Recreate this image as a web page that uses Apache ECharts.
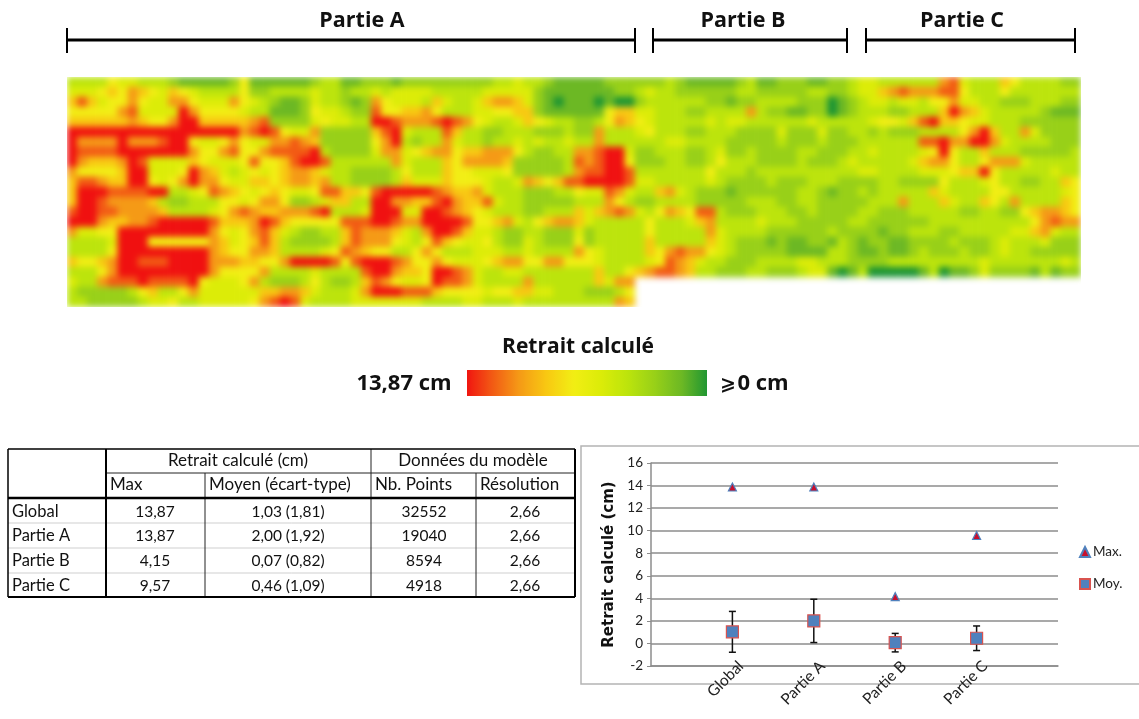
<!DOCTYPE html>
<html><head><meta charset="utf-8">
<style>
html,body{margin:0;padding:0;background:#fff;width:1139px;height:719px;overflow:hidden}
#clip{position:absolute;left:67px;top:77px;width:1014px;height:230px;overflow:hidden}
#heat{width:1014px;height:230px;filter:blur(3px)}
#main{position:absolute;left:0;top:0;width:1139px;height:719px}
</style>
<script src="https://cdn.jsdelivr.net/npm/echarts@6/dist/echarts.min.js"></script>
</head><body>
<div id="clip"><div id="heat"></div></div>
<div id="main"></div>
<script>
// Retreat level per cell: 0 = dark green (0 cm) ... 9 = red (13.87 cm), '.' = no data
const heatRows = [
"3333544333 2111112511 1111233112 2212222222 2233433211 1112222223 2111112311 2221122344 3333337843 3365333322",
"4445657654 6543333522 3333433233 4344443333 3444442111 1111223433 2222223322 2223322344 6787778853 3353333333",
"6864557544 7754447543 2112433212 7544436433 4677642101 1101002333 3332212233 3322201234 4344355744 3322233322",
"5555578444 4975555433 1112544322 8556675333 4455662111 1115664433 3223333732 2112201233 3223336976 4333332111",
"6666667655 7996666678 2222454433 9987778987 5433465433 2235765433 3334344333 3334333334 5546896654 4333222222",
"9999999999 9999999789 8544722222 6894333863 3223332223 2273334533 3223332222 4222422332 3222333357 9633742222",
"9777797778 9954457544 7787622222 5793233743 3233434334 3373333334 4333322222 3222322233 3333889779 9743333222",
"9888899999 9975578557 8888932222 4774567756 6777532233 7789942233 3223422322 2233222334 3333459533 6333222223",
"9766679844 4465444585 5689983333 3374333657 7776222223 8789952223 3223533322 2232223433 3334677533 5777433333",
"7555569944 4597643454 5677643322 2235333655 4445222223 7889983333 3335333233 3333333344 3333444566 9533333433",
"6887669954 5797754466 5677673322 2236444655 5433476568 8999984433 3334322223 2223332222 3322225333 4533223365",
"6999888899 3345876545 6544588665 8999998766 7433322233 5448743367 4322212222 2233212232 3333364333 3553333345",
"6998777763 2233355457 7522346633 9977668976 6843322222 3337532233 3322222333 2233222223 3373336433 6537333365",
"8998877776 3333457876 6777893334 9994499876 5433322333 6467874357 6588322233 3223222233 2223333322 3322567765",
"9997667789 9999866679 8655555888 9987799998 5567435677 6433333533 3467333343 3322222332 2222233333 3333357877",
"7445599999 9999754578 6432233687 7764379986 4432233222 4233333533 3337433332 2222232222 1223332233 3334467433",
"3333499955 5555764568 6322223687 7754358654 4532243222 5233333633 3336432221 2112213212 2112222322 2343334222",
"3333599999 9999765577 6333345876 5533575333 4443343333 7543333657 8775432222 2111133211 2112322232 2343322222",
"6556799888 9999777665 5799998589 9987557544 4567755775 5543333458 7643322233 3344333222 2333333333 4333333343",
"3335799999 9999755557 3333433338 9976659987 4334433333 3363356788 7633222332 2234410130 0000130112 4222213122",
"4337888988 8895444573 2223532236 8754459887 4333373333 336477.... .......... .......... .......... ..........",
"3222223563 3574444446 6776433347 9998886555 5455664433 322235.... .......... .......... .......... ..........",
"3322222344 5334444457 8984333344 4444433334 4333433333 333376.... .......... .......... .......... .........."
];
const maxRetreat = 13.87;
const levelColors = ['#1b9433','#6cb824','#98d018','#bce40c','#dcec08','#f2ee14','#f8c812','#f59a16','#f25a14','#f01010'];

const parts = ['Partie A','Partie B','Partie C'];

const chartCats = ['','Global','Partie A','Partie B','Partie C',''];
const maxValues = [13.87,13.87,4.15,9.57];
const meanValues = [1.03,2.00,0.07,0.46];
const sdValues = [1.81,1.92,0.82,1.09];
const yTicks = {min:-2,max:16,step:2};

const tableHead1 = ['Retrait calculé (cm)','Données du modèle'];
const tableHead2 = ['Max','Moyen (écart-type)','Nb. Points','Résolution'];
const tableNames = ['Global','Partie A','Partie B','Partie C'];
const tableMax = ['13,87','13,87','4,15','9,57'];
const tableMean = ['1,03 (1,81)','2,00 (1,92)','0,07 (0,82)','0,46 (1,09)'];
const tablePoints = ['32552','19040','8594','4918'];
const tableRes = ['2,66','2,66','2,66','2,66'];

// ---------- heat map ----------
const cells = [];
heatRows.forEach((row,r)=>{
  row.replace(/ /g,'').split('').forEach((ch,c)=>{
    if(ch!=='.') cells.push([c,r,+ch/9*maxRetreat]);
  });
});
const nCols = heatRows[0].replace(/ /g,'').length;
const heat = echarts.init(document.getElementById('heat'),null,{renderer:'canvas'});
heat.setOption({
  animation:false,
  grid:{left:0,right:0,top:0,bottom:0},
  xAxis:{type:'category',show:false,data:Array.from({length:nCols},(_,i)=>i)},
  yAxis:{type:'category',show:false,inverse:true,data:heatRows.map((_,i)=>i)},
  visualMap:{show:false,min:0,max:maxRetreat,inRange:{color:levelColors}},
  series:[{type:'heatmap',data:cells,progressive:0,itemStyle:{borderWidth:0}}]
});

// ---------- everything else ----------
const TITLE='"Open Sans","DejaVu Sans",sans-serif';
const BODY='Lato,"Open Sans",sans-serif';
const g=[];
function line(x1,y1,x2,y2,w,c){g.push({type:'line',silent:true,z:1,shape:{x1,y1,x2,y2},style:{stroke:c||'#000',lineWidth:w}});}
function text(t,x,y,font,align){g.push({type:'text',silent:true,z:5,x,y,style:{text:t,font,fill:'#111',textAlign:align||'center',textVerticalAlign:'middle'}});}

// brackets
const spans=[[67,635],[653,847],[866,1075]];
parts.forEach((p,i)=>{
  const [a,b]=spans[i];
  line(a,40,b,40,3); line(a,28,a,53,2); line(b,28,b,53,2);
  text(p,[362,743,962][i],21,'bold 21.5px '+TITLE);
});
// colour scale captions and square edge for the bar
text('Retrait calculé',578,347,'bold 21px '+TITLE);
text('13,87 cm',404,384,'bold 22px '+TITLE);
text('⩾',728,385,'bold 19px "DejaVu Sans"');
text('0 cm',763,384,'bold 22px '+TITLE);
g.push({type:'rect',silent:true,z:50,shape:{x:466,y:369,width:242,height:28},style:{fill:'none',stroke:'#fff',lineWidth:2}});

// table
const X=[8,106,205,371,476,575], Y=[449,473,498,523,548,573,597];
[Y[3],Y[4],Y[5]].forEach(y=>line(X[0],y,X[5],y,1,'#cfcfcf'));
line(X[1],Y[1],X[5],Y[1],1,'#222');
line(X[2],Y[1],X[2],Y[6],1,'#222');
line(X[3],Y[0],X[3],Y[6],1,'#222');
line(X[4],Y[1],X[4],Y[6],1,'#222');
line(X[0],Y[2],X[5],Y[2],2.5);
line(X[1],Y[0],X[1],Y[6],2);
line(X[0],Y[0],X[5],Y[0],1.5); line(X[0],Y[6],X[5],Y[6],2);
line(X[0],Y[0],X[0],Y[6],1.5); line(X[5],Y[0],X[5],Y[6],2);
const tf='15.5px '+BODY, hf='17px '+BODY, nf='16.5px '+BODY;
text(tableHead1[0],238,461,hf); text(tableHead1[1],473,461,hf);
tableHead2.forEach((t,i)=>text(t,X[i+1]+4,485,hf,'left'));
const rowY=[512,536,561,586];
tableNames.forEach((t,i)=>{
  text(t,12,rowY[i],nf,'left');
  text(tableMax[i],155,rowY[i],tf);
  text(tableMean[i],288,rowY[i],tf);
  text(tablePoints[i],424,rowY[i],tf);
  text(tableRes[i],525,rowY[i],tf);
});
// chart frame
g.push({type:'rect',silent:true,z:-5,shape:{x:581,y:446,width:570,height:238},style:{fill:'none',stroke:'#b4b4b4',lineWidth:1.5}});

const main=echarts.init(document.getElementById('main'),null,{renderer:'canvas'});
main.setOption({
  animation:false,
  graphic:g,
  visualMap:{type:'continuous',seriesIndex:[],min:0,max:maxRetreat,inverse:true,orient:'horizontal',
    left:465,top:368,itemWidth:30,itemHeight:244,calculable:false,text:null,padding:0,z:2,
    inRange:{color:levelColors}},
  grid:{left:651,right:81,top:463,bottom:53},
  legend:{orient:'vertical',left:1074,top:540,itemGap:18,itemWidth:10,itemHeight:10,
    data:['Max.','Moy.'],textStyle:{fontFamily:BODY,fontSize:13.5,color:'#222',padding:[0,0,0,-2]}},
  xAxis:{type:'category',boundaryGap:false,data:chartCats,
    axisLine:{onZero:false,lineStyle:{color:'#8c8c8c',width:1.5}},axisTick:{show:false},splitLine:{show:false},
    axisLabel:{interval:0,rotate:45,margin:6,fontFamily:BODY,fontSize:15.5,color:'#222',padding:[0,-12,0,0]}},
  yAxis:{type:'value',min:yTicks.min,max:yTicks.max,interval:yTicks.step,
    name:'Retrait calculé (cm)',nameLocation:'middle',nameGap:34,
    nameTextStyle:{fontFamily:'"DejaVu Sans"',fontWeight:'bold',fontSize:15,color:'#111'},
    axisLine:{show:true,lineStyle:{color:'#8c8c8c',width:1.5}},axisTick:{show:true,length:4,lineStyle:{color:'#8c8c8c'}},
    splitLine:{lineStyle:{color:'#8c8c8c',width:1.5}},
    axisLabel:{fontFamily:BODY,fontSize:13.5,color:'#222',margin:8}},
  series:[
    {name:'Max.',type:'scatter',symbol:'triangle',symbolSize:8,
      data:maxValues.map((v,i)=>[chartCats[i+1],v]),
      itemStyle:{color:'#c8102e',borderColor:'#4f81bd',borderWidth:1.2,opacity:1}},
    {name:'Ecart-type',type:'custom',
      data:meanValues.map((v,i)=>[chartCats[i+1],v-sdValues[i],v+sdValues[i]]),
      encode:{x:0,y:[1,2]},z:3,
      renderItem:(p,api)=>{
        const lo=api.coord([api.value(0),api.value(1)]), hi=api.coord([api.value(0),api.value(2)]);
        const st={stroke:'#111',lineWidth:1.5};
        return {type:'group',children:[
          {type:'line',shape:{x1:lo[0],y1:lo[1],x2:hi[0],y2:hi[1]},style:st},
          {type:'line',shape:{x1:lo[0]-3.5,y1:lo[1],x2:lo[0]+3.5,y2:lo[1]},style:st},
          {type:'line',shape:{x1:hi[0]-3.5,y1:hi[1],x2:hi[0]+3.5,y2:hi[1]},style:st}
        ]};
      }},
    {name:'Moy.',type:'scatter',symbol:'rect',symbolSize:12,z:4,
      data:meanValues.map((v,i)=>[chartCats[i+1],v]),
      itemStyle:{color:'#4f81bd',borderColor:'#d9534f',borderWidth:1.2,opacity:1}}
  ]
});
</script>
</body></html>
